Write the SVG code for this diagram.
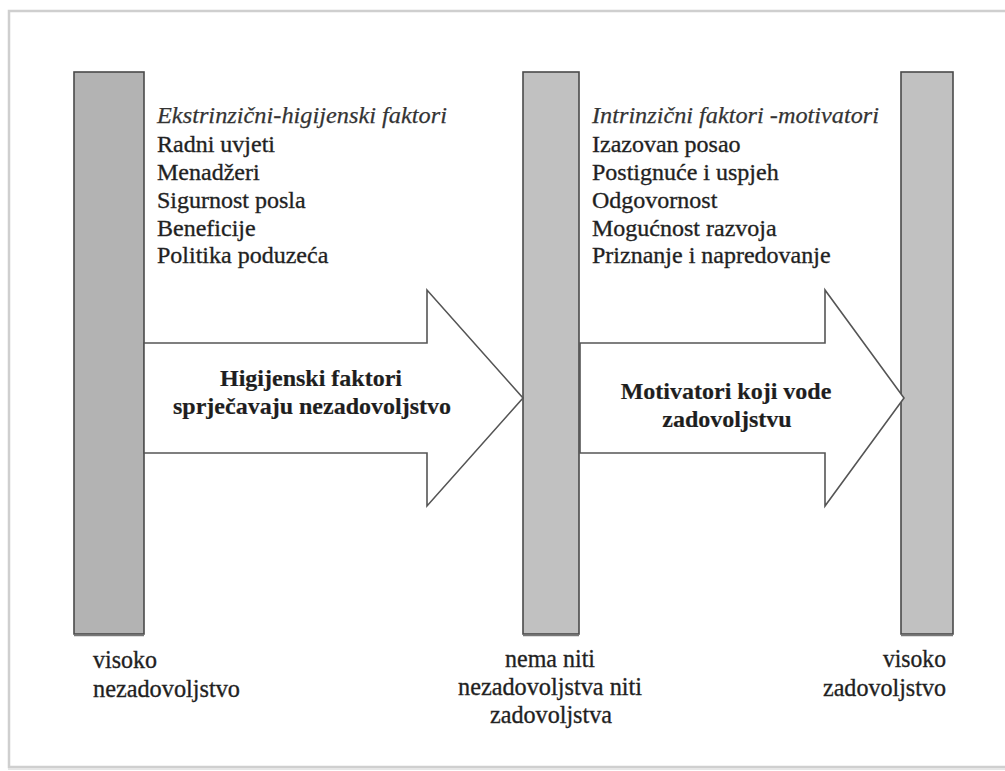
<svg xmlns="http://www.w3.org/2000/svg" width="1005" height="771" viewBox="0 0 1005 771">
  <style>
    text { font-family: 'Liberation Serif', 'DejaVu Serif', serif; fill: #1e1e1e; stroke: #2a2a2a; stroke-width: 0.35px; }
    .list { font-size: 24px; }
    .head { font-size: 24px; font-style: italic; fill: #333; stroke: #3a3a3a; stroke-width: 0.25px; }
    .bold { font-size: 24px; font-weight: bold; text-anchor: middle; stroke-width: 0.2px; }
    .lbl { font-size: 25px; }
    .bar { stroke: #4a4a4a; stroke-width: 1.6; }
    .arrow { fill: #fff; stroke: #555; stroke-width: 1.6; stroke-linejoin: miter; }
  </style>
  <rect width="1005" height="771" fill="#fff"/>
  <!-- frame -->
  <rect x="9" y="11" width="1010" height="756" fill="none" stroke="#cfcfcf" stroke-width="2.5"/>
  <line x1="8" y1="769" x2="1005" y2="769" stroke="#e6e6e6" stroke-width="2"/>

  <g id="bar-left">
    <rect x="74" y="72" width="70" height="562" fill="#b3b3b3" class="bar"/>
    <line x1="74" y1="635.5" x2="144" y2="635.5" stroke="#777" stroke-width="1.5"/>
  </g>
  <g id="bar-middle">
    <rect x="523" y="72" width="56" height="562" fill="#c1c1c1" class="bar"/>
    <line x1="523" y1="635.5" x2="579" y2="635.5" stroke="#777" stroke-width="1.5"/>
  </g>
  <g id="bar-right">
    <rect x="901" y="72" width="52" height="562" fill="#c1c1c1" class="bar"/>
    <line x1="901" y1="635.5" x2="953" y2="635.5" stroke="#777" stroke-width="1.5"/>
  </g>

  <g id="connectors">
    <g id="arrow-hygiene">
      <polygon class="arrow" points="144,343 427,343 427,290 523,398 427,506 427,453 144,453"/>
      <text class="bold" x="311" y="386">Higijenski faktori</text>
      <text class="bold" x="312" y="414">sprječavaju nezadovoljstvo</text>
    </g>
    <g id="arrow-motivators">
      <polygon class="arrow" points="580,343 825,343 825,290 904,398 825,506 825,453 580,453"/>
      <text class="bold" x="726" y="399">Motivatori koji vode</text>
      <text class="bold" x="727" y="427">zadovoljstvu</text>
    </g>
  </g>

  <g id="extrinsic-factors">
    <text class="head" x="157" y="123" textLength="290" lengthAdjust="spacingAndGlyphs">Ekstrinzični-higijenski faktori</text>
    <text class="list" x="157" y="152">Radni uvjeti</text>
    <text class="list" x="157" y="180">Menadžeri</text>
    <text class="list" x="157" y="208">Sigurnost posla</text>
    <text class="list" x="157" y="236">Beneficije</text>
    <text class="list" x="157" y="263">Politika poduzeća</text>
  </g>

  <g id="intrinsic-factors">
    <text class="head" x="592" y="123" textLength="287" lengthAdjust="spacingAndGlyphs">Intrinzični faktori -motivatori</text>
    <text class="list" x="592" y="152">Izazovan posao</text>
    <text class="list" x="592" y="180">Postignuće i uspjeh</text>
    <text class="list" x="592" y="208">Odgovornost</text>
    <text class="list" x="592" y="236">Mogućnost razvoja</text>
    <text class="list" x="592" y="263">Priznanje i napredovanje</text>
  </g>

  <g id="label-left">
    <text class="lbl" x="93" y="668" textLength="64" lengthAdjust="spacingAndGlyphs">visoko</text>
    <text class="lbl" x="93" y="697" textLength="147" lengthAdjust="spacingAndGlyphs">nezadovoljstvo</text>
  </g>
  <g id="label-middle">
    <text class="lbl" x="550" y="667" text-anchor="middle" textLength="90" lengthAdjust="spacingAndGlyphs">nema niti</text>
    <text class="lbl" x="550" y="695" text-anchor="middle" textLength="184" lengthAdjust="spacingAndGlyphs">nezadovoljstva niti</text>
    <text class="lbl" x="551" y="723" text-anchor="middle" textLength="122" lengthAdjust="spacingAndGlyphs">zadovoljstva</text>
  </g>
  <g id="label-right">
    <text class="lbl" x="946" y="667" text-anchor="end" textLength="63" lengthAdjust="spacingAndGlyphs">visoko</text>
    <text class="lbl" x="946" y="696" text-anchor="end" textLength="123" lengthAdjust="spacingAndGlyphs">zadovoljstvo</text>
  </g>
</svg>
